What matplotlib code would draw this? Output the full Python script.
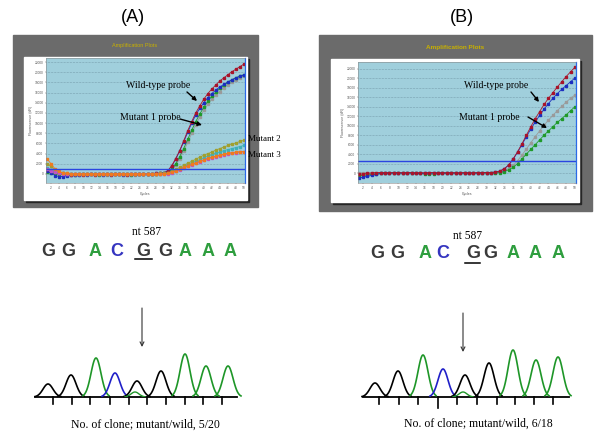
import numpy as np
import matplotlib.pyplot as plt
from matplotlib.patches import Rectangle

W, H = 600, 441
plt.rcParams["font.family"] = "Liberation Sans"

cycles = list(range(1, 51))

# ---- panel A amplification curves (fluorescence dR) ----
a_red = [1000, 700, 400, 200, 100, 0, -100, 0, 0, -100,
         0, 0, -100, 0, 0, 0, -100, 0, 0, 0,
         -100, 0, 0, 0, 0, 0, 0, 100, 100, 200,
         600, 1600, 3000, 4600, 6500, 8500, 10300, 12000, 13400, 14700,
         15800, 16700, 17500, 18300, 18900, 19500, 20100, 20600, 21100, 21600]
a_blue = [500, 200, -300, -500, -500, -300, -200, -100, -100, 0,
          -100, 0, 0, 0, -100, 0, 0, 0, 0, -100,
          0, 0, 0, 0, 0, 0, 0, 100, 100, 200,
          600, 1500, 2900, 4500, 6300, 8200, 10000, 11600, 12900, 14000,
          15000, 15800, 16500, 17100, 17600, 18100, 18500, 18900, 19200, 19500]
a_green = [300, 200, 100, 0, 0, 0, 0, -100, 0, 0,
           0, 0, 0, -100, 0, 0, 0, 0, 0, 0,
           0, -100, 0, 0, 0, 0, 0, 0, 100, 100,
           300, 900, 2000, 3400, 5000, 6800, 8600, 10300, 11800, 13100,
           14300, 15300, 16100, 16800, 17400, 18000, 18500, 18900, 19200, 19500]
a_gray = [600, 400, 200, 100, 0, 0, 0, 0, -100, 0,
          0, 0, 0, 0, 0, -100, 0, 0, 0, 0,
          0, 0, -100, 0, 0, 0, 0, 0, 0, 100,
          200, 700, 1700, 3000, 4500, 6200, 8000, 9700, 11200, 12500,
          13700, 14700, 15500, 16200, 16900, 17500, 18000, 18400, 18900, 19300]
a_olive = [2000, 1500, 800, 400, 200, 100, 0, 0, 0, 0,
           0, 0, 0, 0, 0, 0, 0, 0, 0, 0,
           0, 0, 0, 0, 0, 0, 0, 0, 100, 100,
           200, 500, 900, 1300, 1700, 2100, 2500, 2900, 3300, 3700,
           4000, 4300, 4700, 5000, 5300, 5600, 5900, 6100, 6400, 6600]
a_cyan = [1200, 800, 400, 200, 100, 0, 0, 0, 0, 0,
          0, 0, 0, 0, 0, 0, 0, 0, 0, 0,
          0, 0, 0, 0, 0, 0, 0, 0, 0, 100,
          100, 300, 600, 1000, 1400, 1800, 2100, 2500, 2800, 3200,
          3500, 3800, 4100, 4300, 4600, 4800, 5000, 5200, 5400, 5600]
a_orange = [3000, 2000, 1000, 500, 200, 100, 0, 0, 0, 0,
            0, 0, 0, 0, 0, 0, 0, 0, 0, 0,
            0, 0, 0, 0, 0, 0, 0, 0, 0, 0,
            100, 300, 600, 900, 1300, 1600, 1900, 2200, 2500, 2800,
            3100, 3300, 3500, 3700, 3900, 4100, 4200, 4300, 4400, 4400]
a_purple = [1000, 600, 300, 100, 0, 0, 0, 0, 0, 0,
            0, 0, 0, 0, 0, 0, 0, 0, 0, 0,
            0, 0, 0, 0, 0, 0, 0, 0, 0, 0,
            50, 200, 500, 800, 1200, 1500, 1800, 2100, 2400, 2700,
            3000, 3200, 3400, 3600, 3800, 4000, 4100, 4200, 4300, 4400]
a_threshold = 1000

# ---- panel B amplification curves ----
b_red = [-300, -200, -100, 0, 100, 100, 100, 0, 100, 100,
         0, 100, 100, 0, 100, 0, 100, 100, 0, 100,
         0, 100, 0, 0, 100, 0, 0, 100, 100, 100,
         100, 200, 400, 900, 1700, 3000, 4500, 6200, 8000, 9800,
         11500, 13000, 14500, 15800, 17000, 18200, 19300, 20400, 21400, 22400]
b_blue = [-1000, -900, -700, -500, -300, -100, 0, 0, 0, 0,
          0, 0, 0, 0, -100, 0, 0, 0, 0, 0,
          0, 0, 0, 0, 0, 0, 0, 0, 0, 100,
          100, 200, 400, 900, 1700, 2900, 4400, 6000, 7700, 9300,
          10800, 12200, 13500, 14700, 15800, 16800, 17700, 18500, 19300, 20100]
b_gray = [0, 100, 100, 100, 100, 100, 100, 100, 100, 100,
          100, 0, 100, 100, 0, 0, 0, 0, 0, 0,
          0, 0, 0, 0, 0, 0, 0, 0, 0, 0,
          0, 100, 200, 500, 1000, 1600, 2600, 3800, 5100, 6400,
          7700, 8900, 10100, 11200, 12200, 13200, 14100, 15000, 15800, 16500]
b_green = [-600, -500, -400, -300, -200, -100, -100, 0, 0, 0,
           0, 0, 0, -100, -100, -200, -200, -200, -100, -100,
           0, 0, 0, 0, 0, 0, 0, 0, 0, 0,
           0, 0, 100, 300, 700, 1200, 2000, 3000, 4000, 5000,
           6000, 7000, 8000, 8900, 9800, 10700, 11500, 12300, 13200, 14000]
b_threshold = 2500

# ---- sequence / chromatogram ----
bases = "GGACGGAAA"
base_colors = {"G": "#3a3a3a", "A": "#2e9e3e", "C": "#3535c0"}
trace_colors = {"G": "black", "A": "#1e9628", "C": "#2020c8"}
a_peak_pos = [13, 36, 61, 80, 102, 126, 150, 171, 193]
a_peak_h = [13, 22, 39, 24, 16, 26, 43, 31, 31]
a_minor = (100, 5)
a_ticks = [18, 37, 55, 75, 94, 112, 131, 150, 168, 187]
b_peak_pos = [12, 35, 60, 80, 102, 126, 150, 173, 195]
b_peak_h = [14, 26, 42, 28, 22, 34, 47, 37, 40]
b_minor = (100, 5)
b_ticks = [16, 36, 55, 75, 94, 114, 134, 152, 171, 190]

fig = plt.figure(figsize=(6, 4.41), dpi=100)


def px_axes(x0, y0, x1, y1, **kw):
    return fig.add_axes([x0 / W, 1 - y1 / H, (x1 - x0) / W, (y1 - y0) / H], **kw)


bg = px_axes(0, 0, W, H, zorder=0)
bg.set_xlim(0, W)
bg.set_ylim(H, 0)
bg.axis("off")

fg = px_axes(0, 0, W, H, zorder=5)
fg.set_xlim(0, W)
fg.set_ylim(H, 0)
fg.axis("off")
fg.patch.set_alpha(0)

# screenshot frames
for (gx0, gy0, gx1, gy1), (wx0, wy0, wx1, wy1) in [
        ((13, 35, 258, 207), (24, 57, 247, 200)),
        ((319, 35, 592, 211), (331, 59, 579, 202))]:
    bg.add_patch(Rectangle((gx0, gy0), gx1 - gx0, gy1 - gy0, color="#6b6b6b"))
    bg.add_patch(Rectangle((wx0 + 2, wy0 + 2), wx1 - wx0, wy1 - wy0, color="#262626"))
    bg.add_patch(Rectangle((wx0, wy0), wx1 - wx0, wy1 - wy0, color="white"))

bg.text(135, 45, "Amplification Plots", color="#c8b000", fontsize=4, ha="center", va="center")
bg.text(455, 48, "Amplification Plots", color="#c8b000", fontsize=4.6, ha="center",
        va="center", fontweight="bold")


def amp_plot(box, xlim, ylim, series, threshold):
    ax = px_axes(*box, zorder=2)
    ax.set_facecolor("#a0cfdc")
    for y, c in series:
        ax.plot(cycles, y, color=c, lw=0.6, marker="s", ms=1.6, mec=c, mfc=c)
    ax.axhline(threshold, color="#2a45e0", lw=1)
    ax.set_xlim(*xlim)
    ax.set_ylim(*ylim)
    ax.set_xticks(range(2, 51, 2))
    ax.set_yticks(range(0, 22001, 2000))
    ax.set_xticks(range(2, 51, 4), minor=True)
    ax.grid(True, which="minor", axis="x", color="#587888", lw=0.4, ls=":")
    ax.grid(True, which="major", axis="y", color="#587888", lw=0.4, ls=":")
    ax.tick_params(length=1, width=0.3, labelsize=2.3, pad=1, colors="#555555")
    ax.tick_params(which="minor", length=0)
    ax.set_xlabel("Cycles", fontsize=2.5, labelpad=1.5, color="#555555")
    ax.set_ylabel("Fluorescence (dR)", fontsize=2.5, labelpad=1, color="#555555")
    for s in ax.spines.values():
        s.set_color("#888888")
        s.set_linewidth(0.4)
    ax.spines["right"].set_color("#2a6ae8")
    ax.spines["right"].set_linewidth(0.9)
    return ax


amp_plot((46, 58, 245, 183), (0.75, 50.25), (-1770, 22790),
         [(a_gray, "#9a9a9a"), (a_green, "#1f9a2a"), (a_blue, "#1c2ec0"),
          (a_red, "#a8142a"), (a_cyan, "#3fb0b8"), (a_olive, "#a0a030"),
          (a_purple, "#c050c8"), (a_orange, "#f07a1e")], a_threshold)
amp_plot((358, 62, 576, 183), (0.87, 50.23), (-2115, 23480),
         [(b_gray, "#9a9a9a"), (b_green, "#1f9a2a"), (b_blue, "#1c2ec0"),
          (b_red, "#a8142a")], b_threshold)

# annotations on amplification plots
serif = "Liberation Serif"
arrow = dict(arrowstyle="-|>", color="black", lw=1, mutation_scale=6, shrinkA=0, shrinkB=0)
fg.text(158, 85, "Wild-type probe", family=serif, fontsize=7, ha="center", va="center")
fg.annotate("", xy=(197, 101), xytext=(187, 92), arrowprops=arrow)
fg.text(150, 118, "Mutant 1 probe", family=serif, fontsize=7, ha="center", va="center")
fg.annotate("", xy=(202, 125), xytext=(180, 119), arrowprops=arrow)
fg.text(248, 139, "Mutant 2", family=serif, fontsize=6.5, ha="left", va="center")
fg.text(248, 155, "Mutant 3", family=serif, fontsize=6.5, ha="left", va="center")
fg.text(496, 85, "Wild-type probe", family=serif, fontsize=7, ha="center", va="center")
fg.annotate("", xy=(539, 102), xytext=(531, 92), arrowprops=arrow)
fg.text(489, 118, "Mutant 1 probe", family=serif, fontsize=7, ha="center", va="center")
fg.annotate("", xy=(547, 128), xytext=(528, 117), arrowprops=arrow)

# panel labels
fg.text(133, 17, "(A)", fontsize=13, ha="center", va="center")
fg.text(462, 18, "(B)", fontsize=13, ha="center", va="center")

# sequences
for xs, y_txt, nt_xy, ul, arr_x, arr_y in [
        ([48, 68, 95, 117, 143, 165, 185, 208, 230], 251, (147, 232), (135, 152, 259), 142, (308, 347)),
        ([377, 397, 425, 443, 473, 490, 513, 535, 558], 253, (468, 236), (465, 480, 263), 463, (313, 352))]:
    for b, x in zip(bases, xs):
        fg.text(x, y_txt, b, color=base_colors[b], fontsize=13, fontweight="bold",
                ha="center", va="center")
    fg.text(nt_xy[0], nt_xy[1], "nt 587", family=serif, fontsize=8.3, ha="center", va="center")
    fg.plot([ul[0], ul[1]], [ul[2], ul[2]], color="black", lw=1.1)
    fg.annotate("", xy=(arr_x, arr_y[1]), xytext=(arr_x, arr_y[0]),
                arrowprops=dict(arrowstyle="->", color="#333333", lw=0.8, mutation_scale=7,
                                shrinkA=0, shrinkB=0))


def chromatogram(x0, x1, pos, heights, minor, ticks, long_tick=None):
    ax = px_axes(x0, 347, x1, 397, zorder=3)
    ax.set_xlim(0, x1 - x0)
    ax.set_ylim(0, 50)
    ax.axis("off")
    ax.plot([0, x1 - x0], [0, 0], color="black", lw=1.3, clip_on=False)
    for b, c, h in zip(bases, pos, heights):
        xs = np.linspace(c - 13, c + 13, 80)
        ax.plot(xs, h * np.exp(-0.5 * ((xs - c) / 5.0) ** 2), color=trace_colors[b], lw=1.2,
                clip_on=False)
    xs = np.linspace(minor[0] - 10, minor[0] + 10, 50)
    ax.plot(xs, minor[1] * np.exp(-0.5 * ((xs - minor[0]) / 4) ** 2), color="#1e9628", lw=1.0)
    for i, t in enumerate(ticks):
        depth = -11 if i == long_tick else -7
        ax.plot([t, t], [0, depth], color="black", lw=1.2, clip_on=False)
    return ax


chromatogram(35, 237, a_peak_pos, a_peak_h, a_minor, a_ticks)
chromatogram(363, 569, b_peak_pos, b_peak_h, b_minor, b_ticks, long_tick=3)

fg.text(145, 425, "No. of clone; mutant/wild, 5/20", family=serif, fontsize=8.5,
        ha="center", va="center")
fg.text(478, 424, "No. of clone; mutant/wild, 6/18", family=serif, fontsize=8.5,
        ha="center", va="center")

fig.savefig("out.png", dpi=100)
